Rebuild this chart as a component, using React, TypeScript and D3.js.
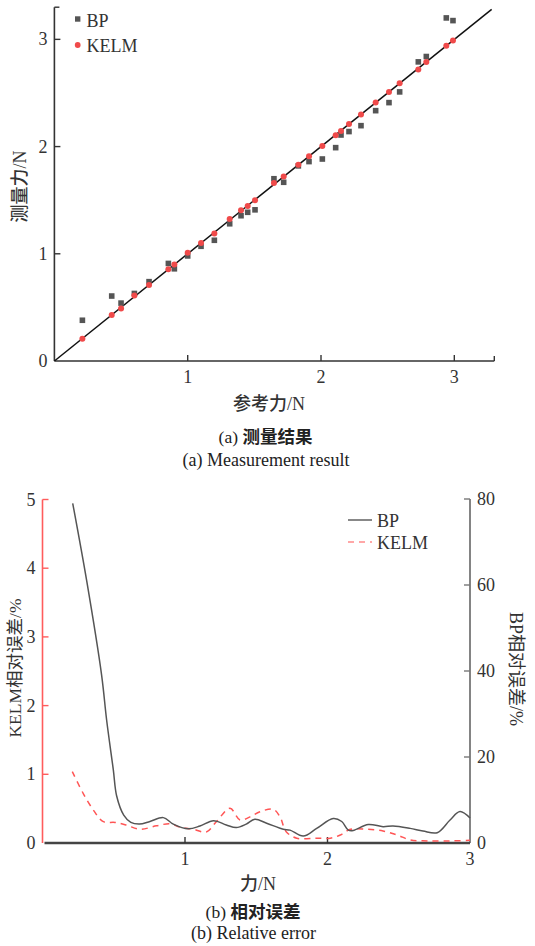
import React from "react";
import * as d3 from "d3";

// Reference force (N) and the force measured by each model
const refForce = [0.21, 0.43, 0.5, 0.6, 0.71, 0.855, 0.9, 1.0, 1.1, 1.2, 1.315, 1.4, 1.45, 1.505, 1.647, 1.72, 1.83, 1.91, 2.01, 2.11, 2.15, 2.21, 2.3, 2.41, 2.51, 2.59, 2.73, 2.79, 2.94, 2.99];
const bpMeasured = [0.38, 0.606, 0.54, 0.63, 0.74, 0.91, 0.86, 0.98, 1.07, 1.126, 1.28, 1.355, 1.387, 1.41, 1.7, 1.667, 1.82, 1.86, 1.884, 1.99, 2.108, 2.14, 2.195, 2.335, 2.41, 2.51, 2.79, 2.84, 3.2, 3.175];
const kelmMeasured = [0.208, 0.43, 0.49, 0.61, 0.71, 0.855, 0.9, 1.01, 1.1, 1.19, 1.325, 1.405, 1.446, 1.5, 1.66, 1.72, 1.83, 1.91, 2.006, 2.105, 2.145, 2.21, 2.3, 2.41, 2.51, 2.59, 2.72, 2.79, 2.94, 2.99];

// Relative error curves
const bpErrForce = [0.212, 0.31, 0.415, 0.45, 0.497, 0.52, 0.57, 0.62, 0.68, 0.754, 0.848, 0.918, 1.023, 1.105, 1.2, 1.29, 1.36, 1.43, 1.49, 1.573, 1.69, 1.737, 1.83, 1.924, 2.04, 2.1, 2.146, 2.18, 2.286, 2.39, 2.46, 2.58, 2.67, 2.77, 2.86, 2.93, 3.0];
const bpErr = [79, 61, 39, 28.6, 17, 11, 6.5, 4.8, 4.4, 5.0, 5.9, 4.4, 3.3, 3.95, 5.2, 4.2, 3.6, 4.4, 5.5, 4.6, 3.2, 3.0, 1.6, 3.4, 5.7, 5.0, 3.0, 2.9, 4.3, 3.8, 3.95, 3.4, 2.8, 2.4, 5.35, 7.3, 5.8];
const kelmErrForce = [0.209, 0.286, 0.357, 0.427, 0.509, 0.59, 0.684, 0.8, 0.895, 0.965, 1.06, 1.15, 1.22, 1.316, 1.386, 1.456, 1.526, 1.62, 1.667, 1.71, 1.784, 1.924, 2.02, 2.09, 2.16, 2.275, 2.39, 2.49, 2.58, 2.7, 2.86, 3.0];
const kelmErr = [1.04, 0.72, 0.48, 0.31, 0.3, 0.26, 0.2, 0.25, 0.28, 0.23, 0.2, 0.16, 0.31, 0.505, 0.335, 0.38, 0.455, 0.49, 0.38, 0.165, 0.07, 0.07, 0.07, 0.116, 0.2, 0.2, 0.175, 0.116, 0.044, 0.03, 0.03, 0.04];

const forceTicksA = [0, 1, 2, 3];
const forceTicksB = [1, 2, 3];
const kelmTicks = [0, 1, 2, 3, 4, 5];
const bpTicks = [0, 20, 40, 60, 80];

const SERIF = "'Liberation Serif', 'Noto Sans CJK SC', serif";
const CJK = "'Noto Sans CJK SC', sans-serif";
const RED = "#f04a4a";
const GRAY = "#555";

export default function App() {
  // ---- (a) measurement scatter ----
  const xA = d3.scaleLinear().domain([0, 3.3]).range([54.4, 494.3]);
  const yA = d3.scaleLinear().domain([0, 3.3]).range([361, 7.2]);

  // ---- (b) relative error ----
  const xB = d3.scaleLinear().domain([0, 3]).range([42.5, 470]);
  const yK = d3.scaleLinear().domain([0, 5]).range([843, 499.5]);
  const yP = d3.scaleLinear().domain([0, 80]).range([843, 499]);

  const bpLine = d3
    .line<number>()
    .x((_, i) => xB(bpErrForce[i]))
    .y((d) => yP(d))
    .curve(d3.curveCatmullRom.alpha(0.5))(bpErr) as string;
  const kelmLine = d3
    .line<number>()
    .x((_, i) => xB(kelmErrForce[i]))
    .y((d) => yK(d))
    .curve(d3.curveCatmullRom.alpha(0.5))(kelmErr) as string;

  const fs = 18;

  return (
    <svg width={535} height={946} style={{ position: "absolute", left: 0, top: 0, background: "#fff" }}>
      {/* ===== Chart (a) ===== */}
      <g>
        {/* axes */}
        <line x1={xA(0)} x2={xA(0)} y1={yA(0)} y2={yA(3.3)} stroke="#333" strokeWidth={1.6} />
        <line x1={xA(0)} x2={xA(3.3)} y1={yA(0)} y2={yA(0)} stroke="#333" strokeWidth={1.6} />
        <line x1={xA(0)} x2={xA(0) + 5} y1={yA(3.3)} y2={yA(3.3)} stroke="#333" strokeWidth={1.4} />
        <line x1={xA(3.3)} x2={xA(3.3)} y1={yA(0)} y2={yA(0) - 5} stroke="#333" strokeWidth={1.4} />
        {forceTicksA.map((t) => (
          <g key={"ya" + t}>
            {t > 0 && <line x1={xA(0)} x2={xA(0) + 6} y1={yA(t)} y2={yA(t)} stroke="#333" strokeWidth={1.4} />}
            <text x={47.5} y={yA(t)} dy="0.34em" textAnchor="end" fontFamily={SERIF} fontSize={fs} fill="#333">
              {t}
            </text>
          </g>
        ))}
        {forceTicksA.filter((t) => t > 0).map((t) => (
          <g key={"xa" + t}>
            <line x1={xA(t)} x2={xA(t)} y1={yA(0)} y2={yA(0) - 6} stroke="#333" strokeWidth={1.4} />
            <text x={xA(t)} y={382.5} textAnchor="middle" fontFamily={SERIF} fontSize={fs} fill="#333">
              {t}
            </text>
          </g>
        ))}

        {/* ideal line y = x */}
        <line x1={xA(0)} y1={yA(0)} x2={xA(3.28)} y2={yA(3.28)} stroke="#111" strokeWidth={1.5} />

        {/* BP points */}
        {refForce.map((r, i) => (
          <rect key={"bp" + i} x={xA(r) - 2.8} y={yA(bpMeasured[i]) - 2.8} width={5.6} height={5.6} fill={GRAY} />
        ))}
        {/* KELM points */}
        {refForce.map((r, i) => (
          <circle key={"k" + i} cx={xA(r)} cy={yA(kelmMeasured[i])} r={3} fill={RED} />
        ))}

        {/* legend */}
        <rect x={75} y={16.3} width={5.4} height={5.4} fill={GRAY} />
        <text x={86.5} y={26.8} fontFamily={SERIF} fontSize={fs} fill="#333">BP</text>
        <circle cx={77.7} cy={45} r={2.9} fill={RED} />
        <text x={86.5} y={51.8} fontFamily={SERIF} fontSize={fs} fill="#333">KELM</text>

        {/* titles */}
        <text
          transform="translate(26,186.5) rotate(-90)"
          textAnchor="middle"
          fontFamily={SERIF}
          fontSize={18}
          fill="#333"
        >
          <tspan fontFamily={CJK} fontWeight={500}>测量力</tspan>/N
        </text>
        <text x={269} y={409.5} textAnchor="middle" fontFamily={SERIF} fontSize={18} fill="#333">
          <tspan fontFamily={CJK} fontWeight={500}>参考力</tspan>/N
        </text>
        <text x={265.5} y={443} textAnchor="middle" fontFamily={SERIF} fontSize={17.5} fill="#222">
          (a) <tspan fontFamily={CJK} fontWeight={700}>测量结果</tspan>
        </text>
        <text x={266} y={466} textAnchor="middle" fontFamily={SERIF} fontSize={18} fill="#222">
          (a) Measurement result
        </text>
      </g>

      {/* ===== Chart (b) ===== */}
      <g>
        {/* left (KELM) axis */}
        <line x1={xB(0)} x2={xB(0)} y1={yK(0)} y2={yK(5)} stroke="#ff5c5c" strokeWidth={1.6} />
        {kelmTicks.map((t) => (
          <g key={"yk" + t}>
            {t > 0 && <line x1={xB(0)} x2={xB(0) + 6} y1={yK(t)} y2={yK(t)} stroke="#ff5c5c" strokeWidth={1.4} />}
            <text x={35.5} y={yK(t)} dy="0.34em" textAnchor="end" fontFamily={SERIF} fontSize={fs} fill="#333">
              {t}
            </text>
          </g>
        ))}
        {/* right (BP) axis */}
        <line x1={xB(3)} x2={xB(3)} y1={yP(0)} y2={yP(80)} stroke="#777" strokeWidth={1.8} />
        {bpTicks.map((t) => (
          <g key={"yp" + t}>
            {t > 0 && <line x1={xB(3)} x2={xB(3) - 6} y1={yP(t)} y2={yP(t)} stroke="#777" strokeWidth={1.4} />}
            <text x={477} y={yP(t)} dy="0.34em" textAnchor="start" fontFamily={SERIF} fontSize={fs} fill="#333">
              {t}
            </text>
          </g>
        ))}
        {/* bottom axis */}
        <line x1={xB(0) + 2} x2={xB(3)} y1={yK(0)} y2={yK(0)} stroke="#444" strokeWidth={2.4} />
        {forceTicksB.map((t) => (
          <g key={"xb" + t}>
            {t < 3 && <line x1={xB(t)} x2={xB(t)} y1={yK(0)} y2={yK(0) - 6} stroke="#333" strokeWidth={1.4} />}
            <text x={xB(t)} y={864.5} textAnchor="middle" fontFamily={SERIF} fontSize={fs} fill="#333">
              {t}
            </text>
          </g>
        ))}

        {/* curves */}
        <path d={kelmLine} fill="none" stroke="#ff5555" strokeWidth={1.5} strokeDasharray="6 5" />
        <path d={bpLine} fill="none" stroke={GRAY} strokeWidth={1.5} />

        {/* legend */}
        <line x1={348} x2={372} y1={520} y2={520} stroke={GRAY} strokeWidth={1.4} />
        <text x={377} y={526.5} fontFamily={SERIF} fontSize={fs} fill="#333">BP</text>
        <line x1={348} x2={372} y1={542} y2={542} stroke="#ff8a8a" strokeWidth={1.4} strokeDasharray="6 5" />
        <text x={377} y={548.5} fontFamily={SERIF} fontSize={fs} fill="#333">KELM</text>

        {/* titles */}
        <text
          transform="translate(21,668) rotate(-90)"
          textAnchor="middle"
          fontFamily={SERIF}
          fontSize={17.5}
          fill="#333"
        >
          KELM<tspan fontFamily={CJK}>相对误差</tspan>/%
        </text>
        <text
          transform="translate(510,669) rotate(90)"
          textAnchor="middle"
          fontFamily={SERIF}
          fontSize={18}
          fill="#333"
        >
          BP<tspan fontFamily={CJK}>相对误差</tspan>/%
        </text>
        <text x={258} y={889.5} textAnchor="middle" fontFamily={SERIF} fontSize={18} fill="#333">
          <tspan fontFamily={CJK} fontWeight={500}>力</tspan>/N
        </text>
        <text x={253} y={918} textAnchor="middle" fontFamily={SERIF} fontSize={17.5} fill="#222">
          (b) <tspan fontFamily={CJK} fontWeight={700}>相对误差</tspan>
        </text>
        <text x={253.5} y={939} textAnchor="middle" fontFamily={SERIF} fontSize={18} fill="#222">
          (b) Relative error
        </text>
      </g>
    </svg>
  );
}
